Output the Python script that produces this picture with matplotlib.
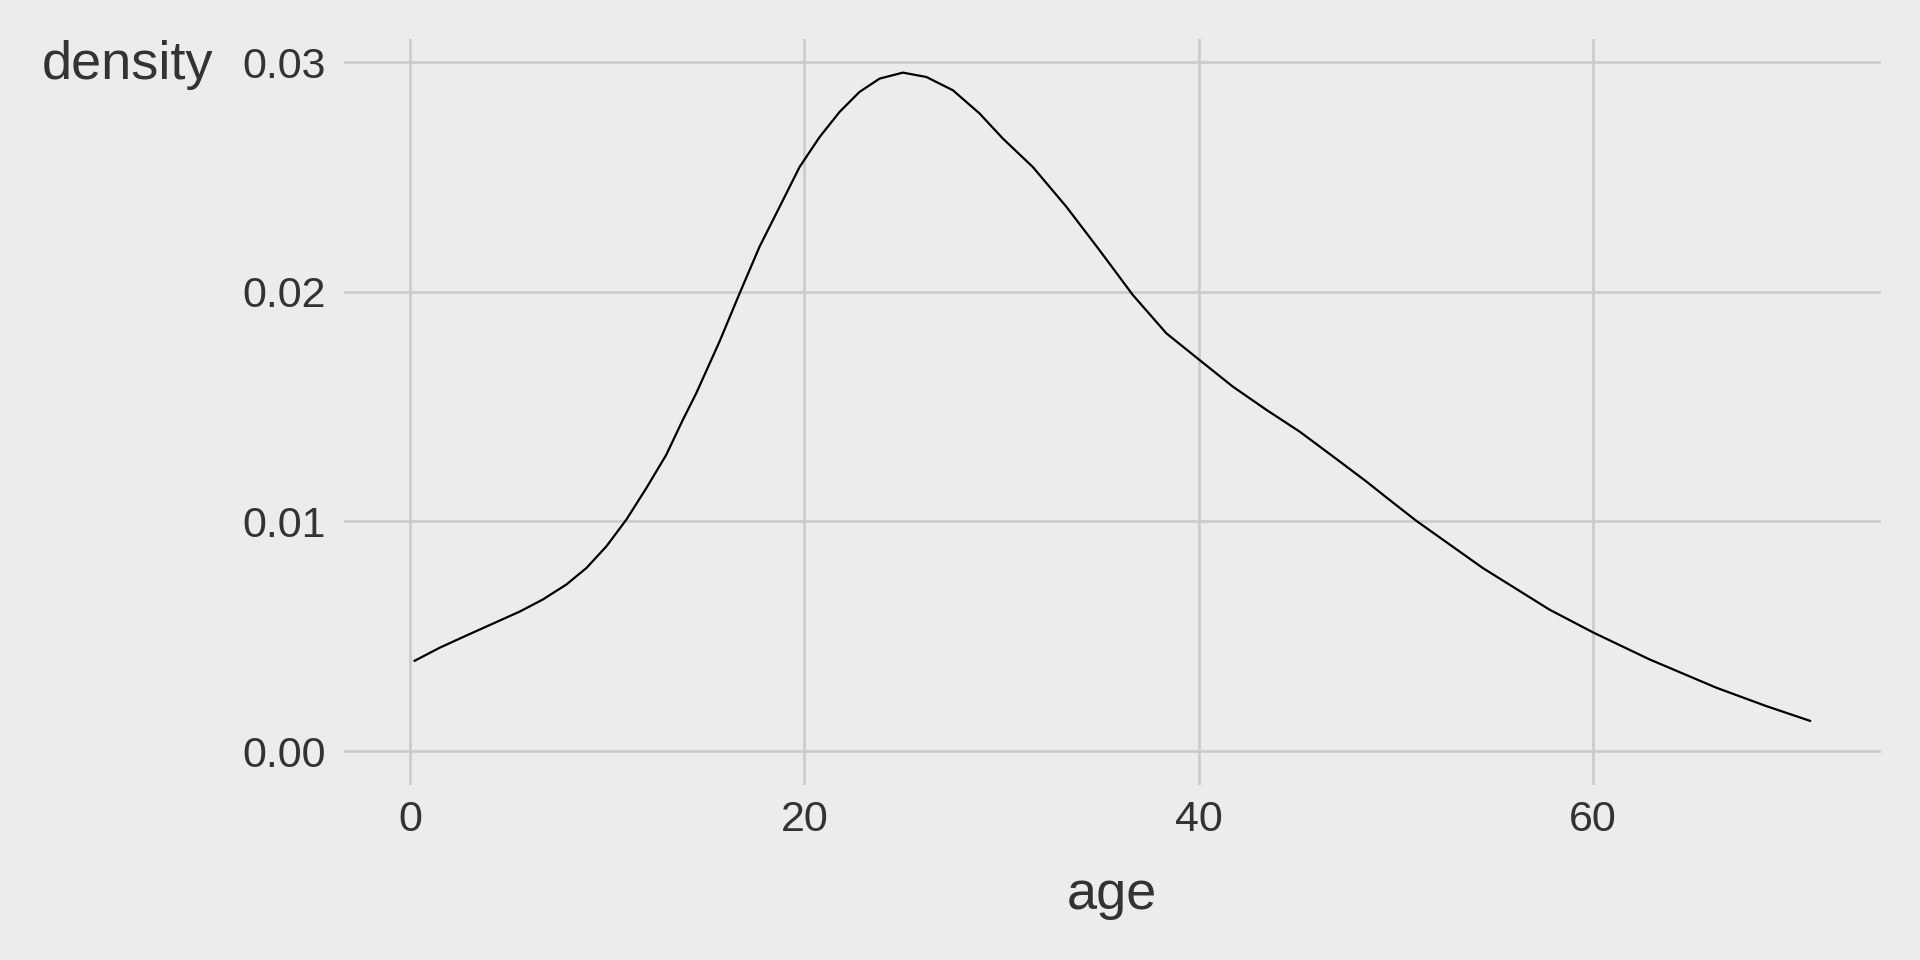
import matplotlib
matplotlib.use("Agg")
import matplotlib.pyplot as plt

# density estimate of age
age = [0.18, 1.50, 2.85, 4.20, 5.55, 6.73, 7.92, 8.94, 9.95, 10.96, 11.98, 12.99,
       13.83, 14.51, 15.69, 16.71, 17.72, 18.74, 19.75, 20.77, 21.78, 22.79, 23.81,
       24.99, 26.18, 27.53, 28.88, 30.06, 31.58, 33.28, 34.96, 36.65, 38.35, 40.03,
       41.72, 43.42, 45.11, 46.80, 48.49, 49.59, 51.02, 54.40, 57.78, 60.03, 62.86,
       66.24, 68.77, 71.05]
density = [0.00391, 0.00450, 0.00503, 0.00555, 0.00607, 0.00660, 0.00725, 0.00797,
           0.00891, 0.01007, 0.01145, 0.01290, 0.01442, 0.01558, 0.01783, 0.01993,
           0.02196, 0.02370, 0.02543, 0.02674, 0.02783, 0.02870, 0.02928, 0.02954,
           0.02935, 0.02877, 0.02776, 0.02667, 0.02543, 0.02370, 0.02181, 0.01986,
           0.01819, 0.01703, 0.01587, 0.01486, 0.01391, 0.01283, 0.01174, 0.01099,
           0.01003, 0.00797, 0.00616, 0.00515, 0.00399, 0.00276, 0.00196, 0.00130]

xticks = [0, 20, 40, 60]
yticks = [0.00, 0.01, 0.02, 0.03]
ytick_labels = ["0.00", "0.01", "0.02", "0.03"]

bg = "#ECECEC"
grid = "#CBCBCB"
txt = "#333333"
plt.rcParams["font.family"] = ["Liberation Sans", "DejaVu Sans"]

fig = plt.figure(figsize=(19.2, 9.6), dpi=100, facecolor=bg)
ax = fig.add_axes([343.8 / 1920, 1 - 785 / 960, (1881 - 343.8) / 1920, (785 - 38.7) / 960])
ax.set_facecolor(bg)

ax.plot(age, density, color="black", lw=1.6, zorder=3,
        solid_joinstyle="round", solid_capstyle="butt")

# ggplot style 5% expansion
xr = max(age) - min(age)
ax.set_xlim(min(age) - 0.05 * xr, max(age) + 0.05 * xr)
yr = max(density)
ax.set_ylim(-0.05 * yr, yr * 1.05)

ax.set_xticks(xticks)
ax.set_yticks(yticks)
ax.set_yticklabels(ytick_labels)
ax.grid(True, color=grid, lw=1.9)
ax.set_axisbelow(True)
for s in ax.spines.values():
    s.set_visible(False)
ax.tick_params(axis="both", length=0, labelsize=31, colors=txt)
ax.tick_params(axis="y", pad=13)
ax.tick_params(axis="x", pad=11)

fig.text(213 / 1920, 1 - 79 / 960, "density", ha="right", va="baseline",
         fontsize=39, color=txt)
fig.text(1112 / 1920, 1 - 895 / 960, "age", ha="center", va="center",
         fontsize=39, color=txt)

fig.savefig("out.png", dpi=100, facecolor=bg)
